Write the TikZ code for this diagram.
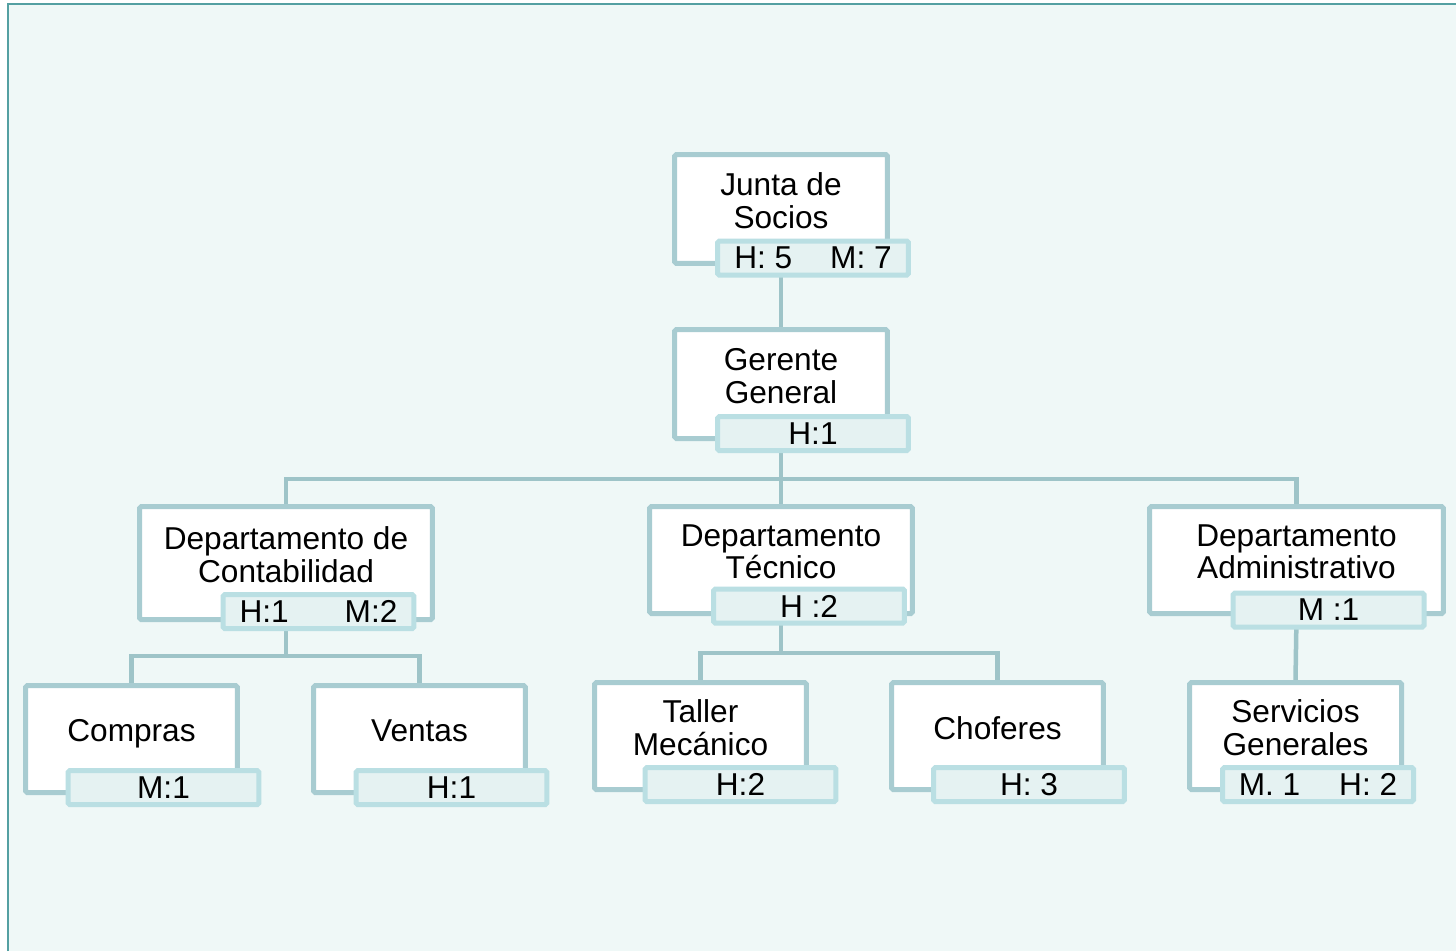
\documentclass[tikz,border=0pt]{standalone}
\usepackage{fontspec}
\setmainfont{Liberation Sans}
\definecolor{boxline}{RGB}{168,204,209}
\definecolor{tagline}{RGB}{186,223,227}
\definecolor{tagfill}{RGB}{229,242,242}
\definecolor{linkcol}{RGB}{158,196,200}
\definecolor{paper}{RGB}{239,248,247}
\definecolor{framecol}{RGB}{84,160,162}
\pgfdeclarelayer{back}
\pgfdeclarelayer{links}
\pgfsetlayers{back,links,main}
\begin{document}
\begin{tikzpicture}[x=0.02cm, y=-0.02cm,
  unit/.style={draw=boxline, line width=0.1cm, fill=white, align=center,
    inner sep=0pt, text depth=9.6pt, rounded corners=1pt,
    font=\fontsize{18}{18.7}\selectfont},
  tag/.style={draw=tagline, line width=0.1cm, fill=tagfill, inner sep=0pt,
    minimum width=3.82cm, minimum height=0.68cm, rounded corners=1pt,
    font=\fontsize{18}{18.7}\selectfont},
  link/.style={draw=linkcol, line width=0.09cm}]
\useasboundingbox (0,0) rectangle (1456,951);

% Background
\begin{pgfonlayer}{back}
\fill[paper] (8,4) rectangle (1456,951);
\draw[framecol, line width=0.04cm] (8,951) -- (8,4) -- (1456,4);
\end{pgfonlayer}

% Junta de Socios
\node[unit, minimum width=4.26cm, minimum height=2.18cm] (junta) at (781,209) {Junta de\\Socios};
\node[tag] (junta-t) at (813,258) {H: 5\hspace{0.76cm}M: 7};

% Gerente General
\node[unit, minimum width=4.26cm, minimum height=2.18cm] (gerente) at (781,384) {Gerente\\General};
\node[tag] (gerente-t) at (813,433.5) {H:1};

% Departamentos
\node[unit, minimum width=5.86cm, minimum height=2.26cm] (contab) at (286,563) {Departamento de\\Contabilidad};
\node[tag] (contab-t) at (318.5,611.5) {H:1\hspace{1.12cm}M:2};

\node[unit, minimum width=5.26cm, minimum height=2.14cm] (tecnico) at (781,560) {Departamento\\Técnico};
\node[tag] (tecnico-t) at (809,606) {H :2};

\node[unit, minimum width=5.88cm, minimum height=2.14cm] (admin) at (1296.5,560) {Departamento\\Administrativo};
\node[tag] (admin-t) at (1328.5,610) {M :1};

% Secciones
\node[unit, minimum width=4.24cm, minimum height=2.14cm] (compras) at (131.5,739) {Compras};
\node[tag] (compras-t) at (163.5,787.5) {M:1};

\node[unit, minimum width=4.24cm, minimum height=2.14cm] (ventas) at (419.5,739) {Ventas};
\node[tag] (ventas-t) at (451.5,787.5) {H:1};

\node[unit, minimum width=4.24cm, minimum height=2.14cm] (taller) at (700.5,736) {Taller\\Mecánico};
\node[tag] (taller-t) at (740.5,784.5) {H:2};

\node[unit, minimum width=4.24cm, minimum height=2.14cm] (choferes) at (997.5,736) {Choferes};
\node[tag] (choferes-t) at (1029,784.5) {H: 3};

\node[unit, minimum width=4.24cm, minimum height=2.14cm] (servicios) at (1295.5,736) {Servicios\\Generales};
\node[tag] (servicios-t) at (1318,784.5) {M. 1\hspace{0.78cm}H: 2};

% Connectors
\coordinate (bus) at (781,479);
\coordinate (cbus) at (286,656);
\coordinate (tbus) at (781,653);
\begin{pgfonlayer}{links}
\draw[link] (junta.south) -- (gerente.north);
\draw[link] (gerente.south) -- (tecnico.north);
\draw[link] (contab.north) |- (bus) -| (admin.north);
\draw[link] (contab.south) -- (cbus);
\draw[link] (compras.north) |- (cbus) -| (ventas.north);
\draw[link] (tecnico.south) -- (tbus);
\draw[link] (taller.north) |- (tbus) -| (choferes.north);
\draw[link] (admin.south) -- (servicios.north);
\end{pgfonlayer}
\end{tikzpicture}
\end{document}
